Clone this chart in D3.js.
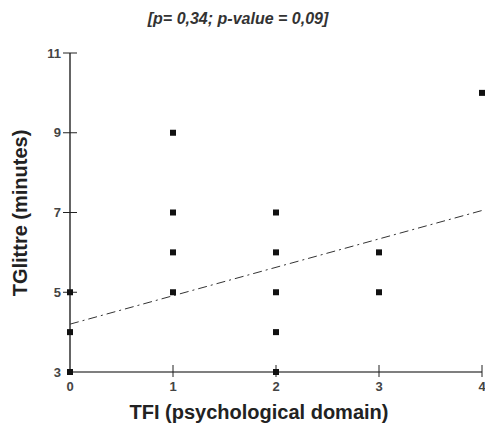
<!DOCTYPE html>
<html>
<head>
<meta charset="UTF-8">
<script src="https://d3js.org/d3.v7.min.js"></script>
<style>
  html, body { margin: 0; padding: 0; background: #fff; }
  svg { display: block; font-family: "Liberation Sans", Arial, sans-serif; }
</style>
</head>
<body>
<svg width="485" height="431"></svg>
<script>
// data
const tfi = [0, 0, 0, 1, 1, 1, 1, 2, 2, 2, 2, 2, 3, 3, 4];
const tglittre = [3, 4, 5, 9, 7, 6, 5, 7, 6, 5, 4, 3, 6, 5, 10];
const xTicks = [0, 1, 2, 3, 4];
const yTicks = [3, 5, 7, 9, 11];
const trend = [[0, 4.2], [4, 7.05]];

const svg = d3.select("svg");
const x = d3.scaleLinear().domain([0, 4]).range([70, 482]);
const y = d3.scaleLinear().domain([3, 11]).range([372, 53]);

// axes
const xAxis = svg.append("g").attr("transform", "translate(0,372)");
xAxis.append("line").attr("x1", x(0)).attr("x2", x(4)).attr("stroke", "#555").attr("stroke-width", 1.3);
xAxis.selectAll("line.tk").data(xTicks.slice(1)).join("line").attr("class", "tk")
  .attr("x1", d => x(d)).attr("x2", d => x(d)).attr("y1", -7).attr("y2", 5)
  .attr("stroke", "#222").attr("stroke-width", 1);
xAxis.selectAll("text").data(xTicks).join("text")
  .attr("x", d => x(d)).attr("y", 19).attr("text-anchor", "middle")
  .attr("font-size", 13).attr("font-weight", "bold").attr("fill", "#444").text(d => d);

const yAxis = svg.append("g").attr("transform", "translate(70,0)");
yAxis.append("line").attr("y1", y(3)).attr("y2", y(11)).attr("stroke", "#111").attr("stroke-width", 1.3);
yAxis.selectAll("line.tk").data(yTicks.slice(1)).join("line").attr("class", "tk")
  .attr("y1", d => y(d)).attr("y2", d => y(d)).attr("x1", -7).attr("x2", 7)
  .attr("stroke", "#222").attr("stroke-width", 1);
yAxis.selectAll("text").data(yTicks).join("text")
  .attr("x", -9).attr("y", d => y(d) + 4.5).attr("text-anchor", "end")
  .attr("font-size", 13).attr("font-weight", "bold").attr("fill", "#444").text(d => d);

// trend line
svg.append("line")
  .attr("x1", x(trend[0][0])).attr("y1", y(trend[0][1]))
  .attr("x2", x(trend[1][0])).attr("y2", y(trend[1][1]))
  .attr("stroke", "#333").attr("stroke-width", 1)
  .attr("stroke-dasharray", "9,4,2,4");

// points
svg.selectAll("rect.pt").data(tfi).join("rect").attr("class", "pt")
  .attr("x", (d, i) => x(d) - 3).attr("y", (d, i) => y(tglittre[i]) - 3)
  .attr("width", 6).attr("height", 6).attr("fill", "#111");

// titles
svg.append("text").attr("x", 238).attr("y", 24).attr("text-anchor", "middle")
  .attr("font-size", 16).attr("font-weight", "bold").attr("font-style", "italic")
  .attr("fill", "#333").text("[p= 0,34; p-value = 0,09]");
svg.append("text").attr("x", 259).attr("y", 419).attr("text-anchor", "middle")
  .attr("font-size", 20).attr("font-weight", "bold").attr("fill", "#222")
  .text("TFI (psychological domain)");
svg.append("text").attr("transform", "translate(27,213) rotate(-90)").attr("text-anchor", "middle")
  .attr("font-size", 20).attr("font-weight", "bold").attr("fill", "#222")
  .text("TGlittre (minutes)");
</script>
</body>
</html>
